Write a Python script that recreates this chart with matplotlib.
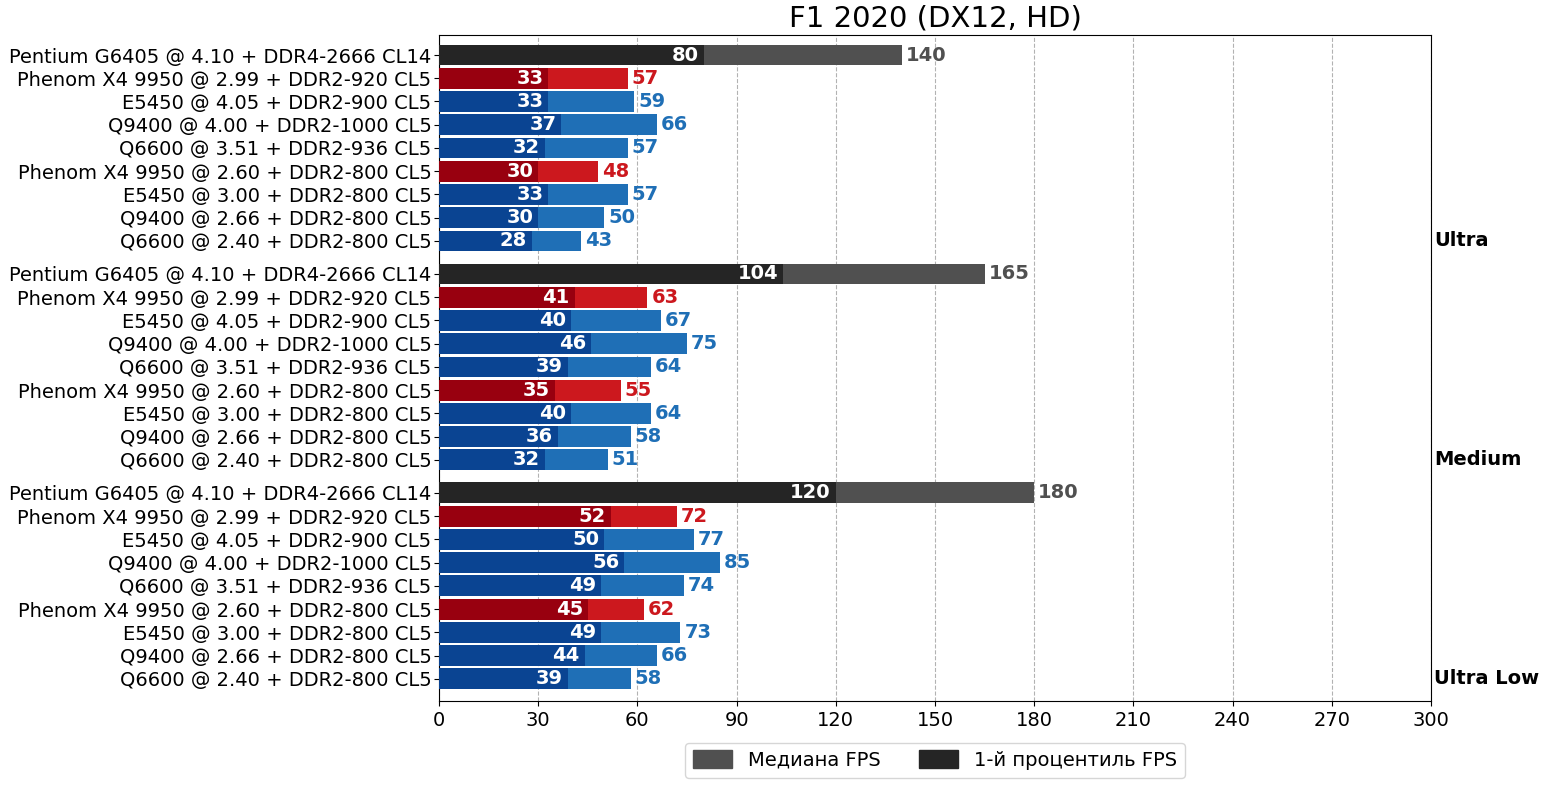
import matplotlib.pyplot as plt
import matplotlib.patches as mpatches

cpus = [
    'Pentium G6405 @ 4.10 + DDR4-2666 CL14',
    'Phenom X4 9950 @ 2.99 + DDR2-920 CL5',
    'E5450 @ 4.05 + DDR2-900 CL5',
    'Q9400 @ 4.00 + DDR2-1000 CL5',
    'Q6600 @ 3.51 + DDR2-936 CL5',
    'Phenom X4 9950 @ 2.60 + DDR2-800 CL5',
    'E5450 @ 3.00 + DDR2-800 CL5',
    'Q9400 @ 2.66 + DDR2-800 CL5',
    'Q6600 @ 2.40 + DDR2-800 CL5',
]
kinds = ['intel_new', 'amd', 'intel', 'intel', 'intel', 'amd', 'intel', 'intel', 'intel']
presets = ['Ultra', 'Medium', 'Ultra Low']

median_ultra = [140, 57, 59, 66, 57, 48, 57, 50, 43]
low1_ultra = [80, 33, 33, 37, 32, 30, 33, 30, 28]
median_medium = [165, 63, 67, 75, 64, 55, 64, 58, 51]
low1_medium = [104, 41, 40, 46, 39, 35, 40, 36, 32]
median_ultralow = [180, 72, 77, 85, 74, 62, 73, 66, 58]
low1_ultralow = [120, 52, 50, 56, 49, 45, 49, 44, 39]

medians = [median_ultra, median_medium, median_ultralow]
lows = [low1_ultra, low1_medium, low1_ultralow]

# цвета: (1-й процентиль, медиана, подпись)
colors = {
    'intel_new': ('#252525', '#505050', '#505050'),
    'amd': ('#98000f', '#cc181e', '#cc181e'),
    'intel': ('#0a4492', '#1f6fb6', '#1f6fb6'),
}

fig = plt.figure(figsize=(15.47, 7.85), dpi=100)
ax = fig.add_axes([0.2838, 0.107, 0.6412, 0.8484])

gap = 0.42
ypos, ylabels = [], []
for g in range(len(presets)):
    for i in range(len(cpus)):
        y = g * (len(cpus) + gap) + i
        ypos.append(y)
        ylabels.append(cpus[i])
        c_low, c_med, c_txt = colors[kinds[i]]
        med = medians[g][i]
        low = lows[g][i]
        ax.barh(y, med, height=0.9, color=c_med, zorder=2)
        ax.barh(y, low, height=0.9, color=c_low, zorder=3)
        ax.text(low - 1.5, y, str(low), ha='right', va='center', color='white',
                fontsize=14, fontweight='bold', zorder=4)
        ax.text(med + 1.2, y, str(med), ha='left', va='center', color=c_txt,
                fontsize=14, fontweight='bold', zorder=4)
    ax.text(1.003, g * (len(cpus) + gap) + len(cpus) - 1, presets[g],
            transform=ax.get_yaxis_transform(), ha='left', va='center',
            fontsize=14, fontweight='bold')

ax.set_yticks(ypos)
ax.set_yticklabels(ylabels, fontsize=14)
ax.tick_params(axis='y', pad=2)
ax.set_ylim(ypos[-1] + 0.95, -0.86)
ax.set_xlim(0, 300)
ax.set_xticks(range(0, 301, 30))
ax.tick_params(axis='x', labelsize=14)
ax.grid(axis='x', linestyle='--', color='gray', alpha=0.6, linewidth=0.8, zorder=0)
ax.set_axisbelow(True)

ax.set_title('F1 2020 (DX12, HD)', fontsize=21)

handles = [mpatches.Patch(color='#505050', label='Медиана FPS'),
           mpatches.Patch(color='#252525', label='1-й процентиль FPS')]
ax.legend(handles=handles, loc='upper center', bbox_to_anchor=(0.5, -0.048),
          ncol=2, fontsize=14, handleheight=1.0)

plt.savefig('out.png', dpi=100)
